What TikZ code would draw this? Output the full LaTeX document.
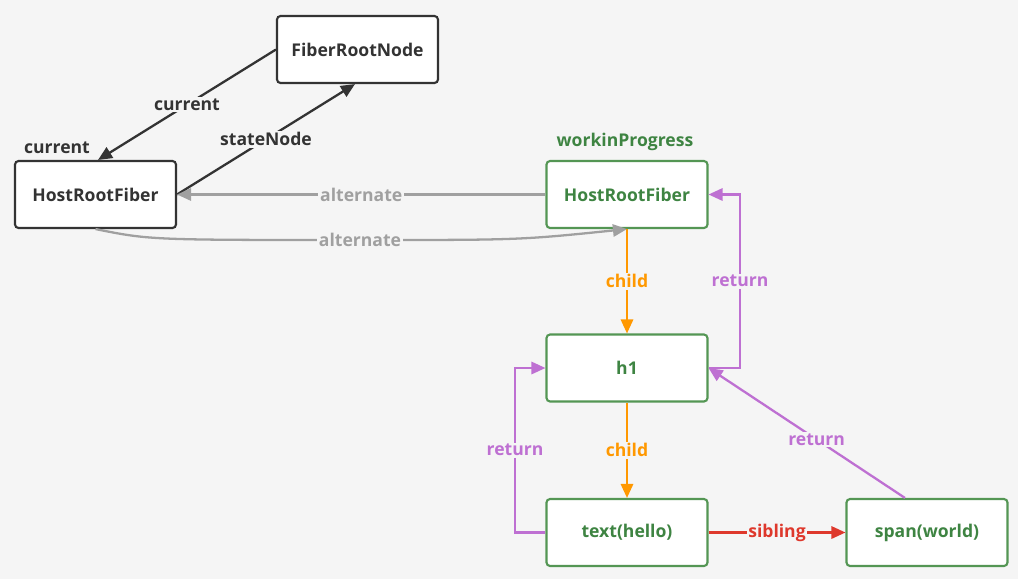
\documentclass[tikz,border=0pt]{standalone}
\usepackage{fontspec}
\setmainfont{Open Sans}
\usetikzlibrary{arrows.meta}
\definecolor{bgc}{RGB}{245,245,245}
\definecolor{ink}{RGB}{51,51,51}
\definecolor{fgreen}{RGB}{62,132,66}
\definecolor{bgreen}{RGB}{84,150,84}
\definecolor{forange}{RGB}{255,152,0}
\definecolor{fpurple}{RGB}{190,112,210}
\definecolor{fred}{RGB}{222,56,44}
\definecolor{fgray}{RGB}{160,160,160}
\tikzset{
  fiber/.style={draw=ink, fill=white, line width=1.2pt, rounded corners=2pt,
    minimum width=3.22cm, minimum height=1.34cm, font=\bfseries\fontsize{10}{12}\selectfont, text=ink},
  wip/.style={fiber, draw=bgreen, text=fgreen},
  link/.style={line width=1.3pt, -{Triangle[length=8pt,width=7pt]}},
  lab/.style={fill=bgc, inner sep=1pt, font=\bfseries\fontsize{10}{12}\selectfont},
}
\begin{document}
\begin{tikzpicture}[x=0.02cm,y=-0.02cm]
\fill[bgc] (0,0) rectangle (1018,579);
\useasboundingbox (0,0) rectangle (1018,579);

% current tree
\node[fiber] (root) at (357.5,49.5) {FiberRootNode};
\node[fiber] (cur) at (95.5,194.5) {HostRootFiber};
\node[font=\bfseries\fontsize{10}{12}\selectfont, text=ink] (curlab) at (57,148) {current};

% work-in-progress tree
\node[wip] (wip) at (627,194.5) {HostRootFiber};
\node[font=\bfseries\fontsize{10}{12}\selectfont, text=fgreen] (wiplab) at (625,142) {workinProgress};
\node[wip] (h1) at (627,368) {h1};
\node[wip] (txt) at (627,532.5) {text(hello)};
\node[wip] (span) at (927,532.5) {span(world)};

% root <-> current fiber
\draw[link, ink] (root.west) -- node[lab, text=ink, pos=0.5] {current} ([xshift=0.05cm]cur.north);
\draw[link, ink] (cur.east) -- node[lab, text=ink, pos=0.5] {stateNode} ([xshift=-0.05cm]root.south);

% alternate links
\coordinate (altmid) at (360,240);
\draw[link, fgray] (wip.west) -- node[lab, text=fgray] {alternate} (cur.east);
\draw[link, fgray] (cur.south) .. controls (150,240) .. (altmid)
  node[lab, text=fgray] {alternate} .. controls (520,240) .. (wip.south);

% child links
\draw[link, forange] (wip.south) -- node[lab, text=forange] {child} (h1.north);
\draw[link, forange] (h1.south) -- node[lab, text=forange] {child} (txt.north);

% return links
\coordinate (r1) at (740,368);
\coordinate (r1t) at (740,194.5);
\draw[link, fpurple] (h1.east) -- (r1) -- node[lab, text=fpurple, pos=0.5] {return} (r1t) -- (wip.east);
\coordinate (r2) at (515,532.5);
\coordinate (r2t) at (515,368);
\draw[link, fpurple] (txt.west) -- (r2) -- node[lab, text=fpurple, pos=0.5] {return} (r2t) -- (h1.west);
\draw[link, fpurple] ([xshift=-0.44cm]span.north) -- node[lab, text=fpurple, pos=0.45] {return} (h1.east);

% sibling link
\draw[link, fred] (txt.east) -- node[lab, text=fred] {sibling} (span.west);
\end{tikzpicture}
\end{document}
